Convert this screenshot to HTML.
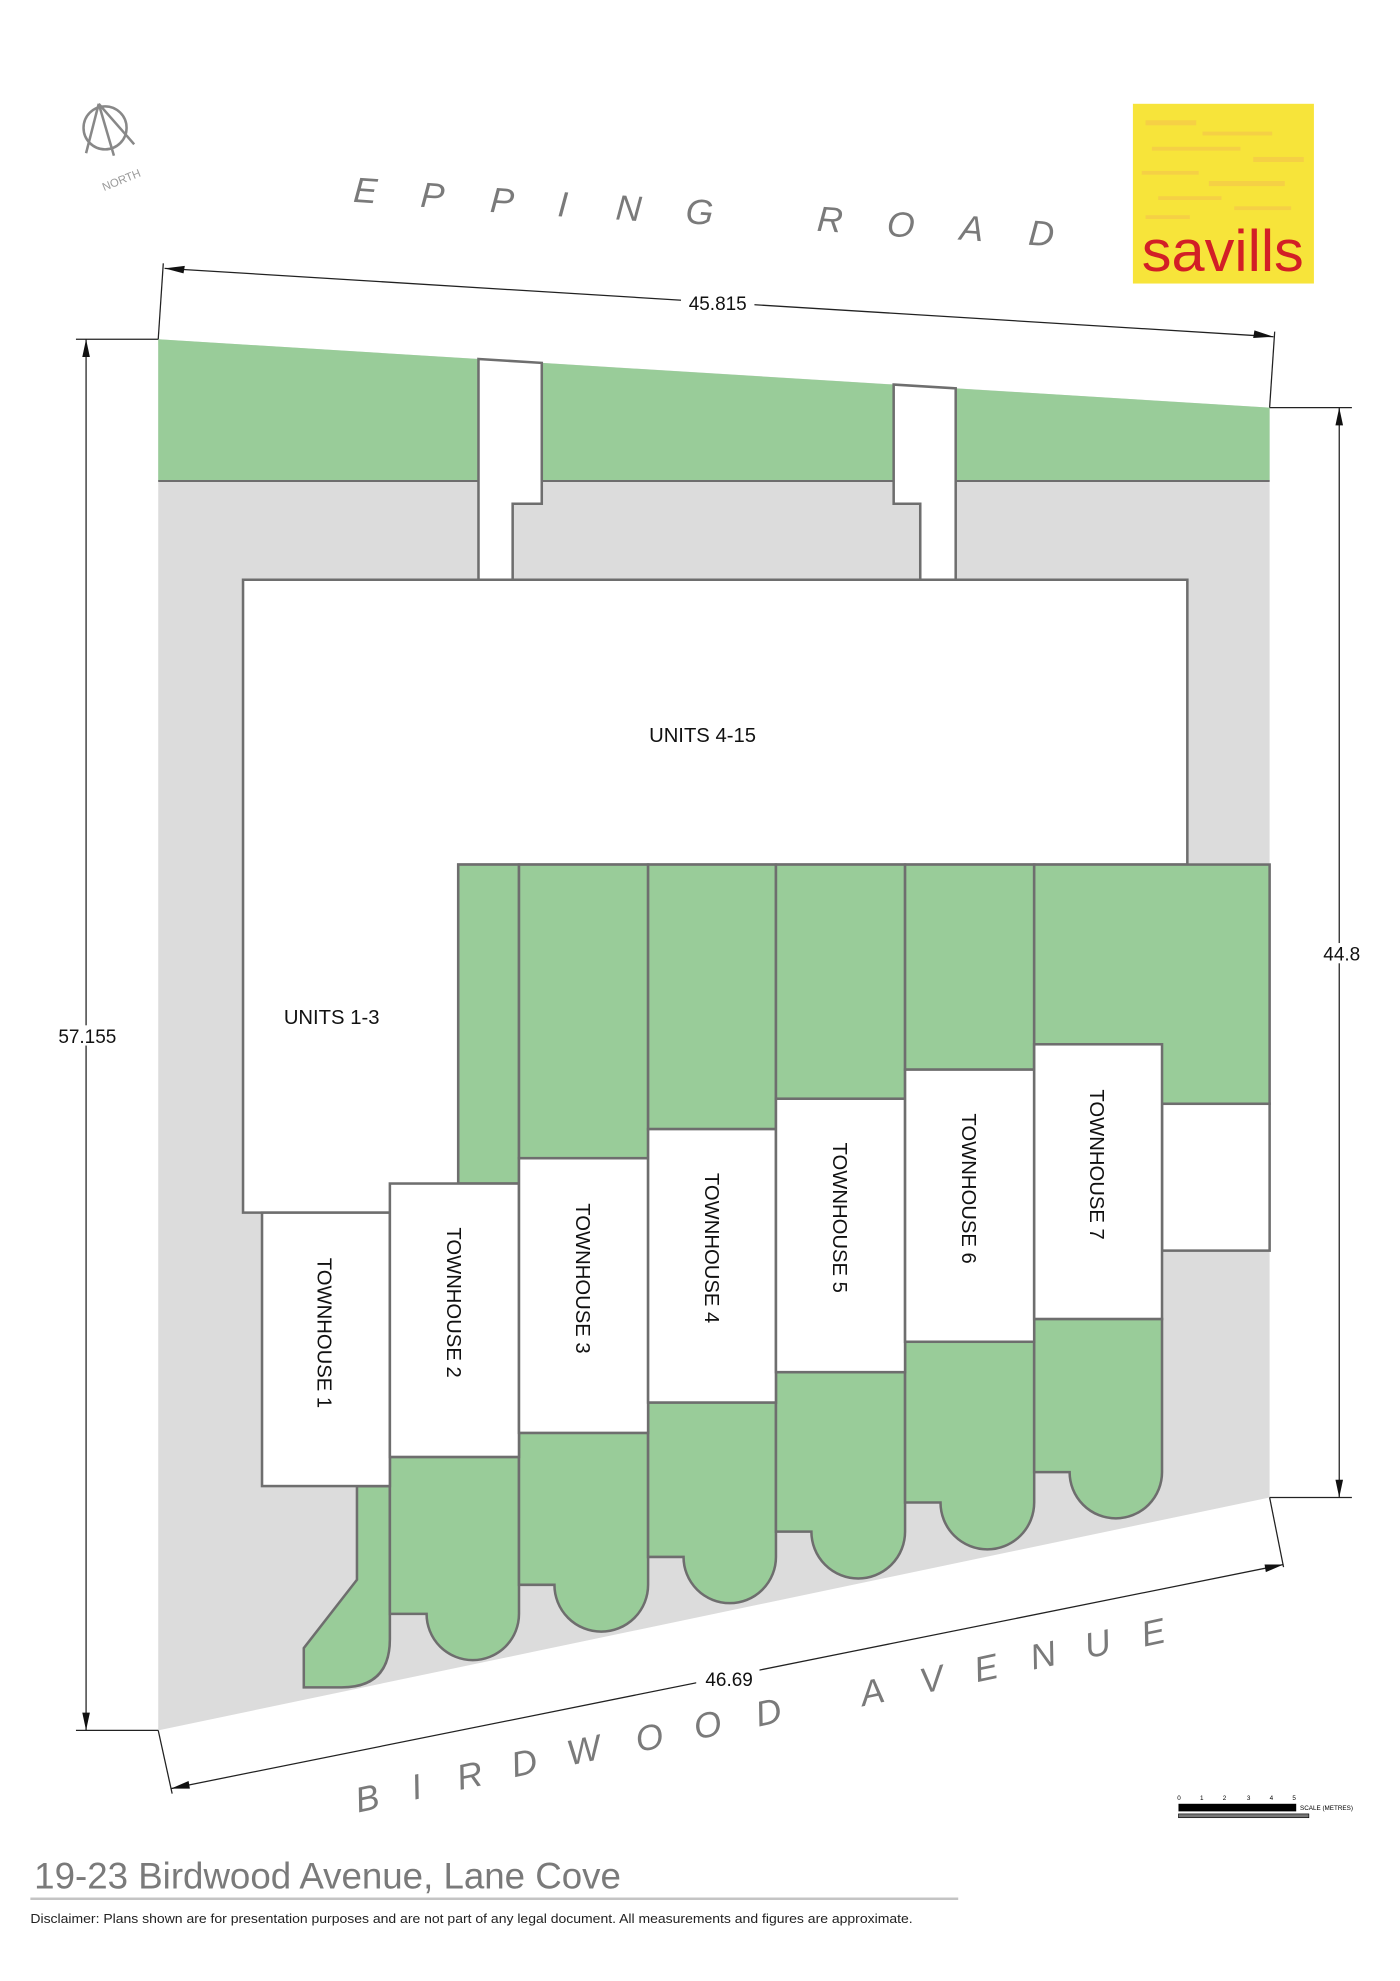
<!DOCTYPE html>
<html><head><meta charset="utf-8"><style>
html,body{margin:0;padding:0;background:#fff;}
svg{display:block;}
text{font-family:"Liberation Sans",sans-serif;}
</style></head><body>
<svg width="1400" height="1981" viewBox="0 0 1106 1565" preserveAspectRatio="none" xmlns="http://www.w3.org/2000/svg">
<rect width="1106" height="1565" fill="#fff"/>
<!-- site -->
<polygon points="125,268 1003,322 1003,1183 125,1367" fill="#dcdcdc"/>
<!-- top green strip -->
<polygon points="125,268 378,283.6 378,380 125,380" fill="#99cc99"/>
<polygon points="428,286.7 706,303.8 706,380 428,380" fill="#99cc99"/>
<polygon points="755,306.8 1003,322 1003,380 755,380" fill="#99cc99"/>
<g fill="none" stroke="#6e6e6e" stroke-width="1.5">
<line x1="125" y1="380" x2="378" y2="380"/>
<line x1="428" y1="380" x2="706" y2="380"/>
<line x1="755" y1="380" x2="1003" y2="380"/>
</g>
<!-- walkways -->
<polygon points="378,283.6 428,286.7 428,398 405,398 405,458 378,458" fill="#fff" stroke="#6e6e6e" stroke-width="2"/>
<polygon points="706,303.8 755,306.8 755,458 727,458 727,398 706,398" fill="#fff" stroke="#6e6e6e" stroke-width="2"/>
<!-- units building -->
<polygon points="192,458 938,458 938,683 362,683 362,958 192,958" fill="#fff" stroke="#6e6e6e" stroke-width="2"/>
<!-- green yards front -->
<g fill="#99cc99" stroke="#6e6e6e" stroke-width="2">
<rect x="362" y="683" width="48" height="252"/>
<rect x="410" y="683" width="102" height="232"/>
<rect x="512" y="683" width="101" height="209"/>
<rect x="613" y="683" width="102" height="185"/>
<rect x="715" y="683" width="102" height="162"/>
<rect x="817" y="683" width="186" height="189"/>
</g>
<rect x="918" y="872" width="85" height="116" fill="#fff" stroke="#6e6e6e" stroke-width="2"/>
<!-- rear gardens -->
<g fill="#99cc99" stroke="#6e6e6e" stroke-width="2">
<path d="M282 1174 L308 1174 L308 1295 Q308 1333 270 1333 L240 1333 L240 1302 L282 1248 Z"/>
<path d="M308 1151 L410 1151 L410 1275 A36.5 36.5 0 0 1 337 1275 L310 1275 L308 1275 Z"/>
<path d="M410 1132 L512 1132 L512 1252 A37 37 0 0 1 438 1252 L410 1252 Z"/>
<path d="M512 1108 L613 1108 L613 1230 A36.5 36.5 0 0 1 540 1230 L512 1230 Z"/>
<path d="M613 1084 L715 1084 L715 1210 A37 37 0 0 1 641 1210 L613 1210 Z"/>
<path d="M715 1060 L817 1060 L817 1187 A37 37 0 0 1 743 1187 L715 1187 Z"/>
<path d="M817 1042 L918 1042 L918 1163 A36.5 36.5 0 0 1 845 1163 L817 1163 Z"/>
</g>
<!-- townhouses -->
<g fill="#fff" stroke="#6e6e6e" stroke-width="2">
<rect x="207" y="958" width="101" height="216"/>
<rect x="308" y="935" width="102" height="216"/>
<rect x="410" y="915" width="102" height="217"/>
<rect x="512" y="892" width="101" height="216"/>
<rect x="613" y="868" width="102" height="216"/>
<rect x="715" y="845" width="102" height="215"/>
<rect x="817" y="825" width="101" height="217"/>
</g>
<g font-size="16" fill="#111">
<text x="555" y="586" text-anchor="middle">UNITS 4-15</text>
<text x="262" y="809" text-anchor="middle">UNITS 1-3</text>
<text transform="translate(251,1053) rotate(90)" text-anchor="middle">TOWNHOUSE 1</text>
<text transform="translate(353,1029) rotate(90)" text-anchor="middle">TOWNHOUSE 2</text>
<text transform="translate(455,1010) rotate(90)" text-anchor="middle">TOWNHOUSE 3</text>
<text transform="translate(557,986) rotate(90)" text-anchor="middle">TOWNHOUSE 4</text>
<text transform="translate(658,962) rotate(90)" text-anchor="middle">TOWNHOUSE 5</text>
<text transform="translate(760,939) rotate(90)" text-anchor="middle">TOWNHOUSE 6</text>
<text transform="translate(861,920) rotate(90)" text-anchor="middle">TOWNHOUSE 7</text>
</g>
<!-- dimensions -->
<g stroke="#222" stroke-width="1" fill="none">
<line x1="125" y1="268" x2="129" y2="208"/>
<line x1="1003" y1="322" x2="1007" y2="262"/>
<line x1="130" y1="212" x2="1006" y2="266"/>
<line x1="60" y1="268" x2="125" y2="268"/>
<line x1="60" y1="1367" x2="125" y2="1367"/>
<line x1="68" y1="268" x2="68" y2="1367"/>
<line x1="1003" y1="322" x2="1068" y2="322"/>
<line x1="1003" y1="1183" x2="1068" y2="1183"/>
<line x1="1058" y1="322" x2="1058" y2="1183"/>
<line x1="125" y1="1367" x2="136" y2="1417"/>
<line x1="1003" y1="1183" x2="1014" y2="1238"/>
<line x1="135" y1="1413" x2="1014" y2="1236"/>
</g>
<g fill="#111">
<polygon points="130,212 146,210 145,216"/>
<polygon points="1006,266 990,267 991,261"/>
<polygon points="68,268 65,282 71,282"/>
<polygon points="68,1367 65,1353 71,1353"/>
<polygon points="1058,322 1055,336 1061,336"/>
<polygon points="1058,1183 1055,1169 1061,1169"/>
<polygon points="135,1413 149,1407 150,1413"/>
<polygon points="1014,1236 1000,1242 999,1236"/>
</g>
<g font-size="15" fill="#111">
<rect x="538" y="231" width="58" height="16" fill="#fff"/>
<text x="567" y="245" text-anchor="middle">45.815</text>
<rect x="40" y="810" width="58" height="16" fill="#fff"/>
<text x="69" y="824" text-anchor="middle">57.155</text>
<rect x="1040" y="745" width="40" height="16" fill="#fff"/>
<text x="1060" y="759" text-anchor="middle">44.8</text>
<rect x="550" y="1318" width="50" height="16" fill="#fff"/>
<text x="576" y="1332" text-anchor="middle">46.69</text>
</g>
<!-- road names -->
<g font-size="28" fill="#7a7a7a" font-style="italic" text-anchor="middle">
<text transform="translate(288,160) rotate(4)">E</text>
<text transform="translate(341,164) rotate(4)">P</text>
<text transform="translate(396,168) rotate(4)">P</text>
<text transform="translate(444,171) rotate(4)">I</text>
<text transform="translate(496,174) rotate(4)">N</text>
<text transform="translate(552,177) rotate(4)">G</text>
<text transform="translate(655,183) rotate(4)">R</text>
<text transform="translate(711,187) rotate(4)">O</text>
<text transform="translate(767,190) rotate(4)">A</text>
<text transform="translate(822,194) rotate(4)">D</text>
</g>
<g font-size="28" fill="#7a7a7a" font-style="italic" text-anchor="middle">
<text transform="translate(292,1430) rotate(-12)">B</text>
<text transform="translate(331,1421) rotate(-12)">I</text>
<text transform="translate(373,1412) rotate(-12)">R</text>
<text transform="translate(416,1402) rotate(-12)">D</text>
<text transform="translate(463,1392) rotate(-12)">W</text>
<text transform="translate(515,1382) rotate(-12)">O</text>
<text transform="translate(561,1372) rotate(-12)">O</text>
<text transform="translate(609,1362) rotate(-12)">D</text>
<text transform="translate(691,1346) rotate(-12)">A</text>
<text transform="translate(738,1336) rotate(-12)">V</text>
<text transform="translate(781,1327) rotate(-12)">E</text>
<text transform="translate(826,1317) rotate(-12)">N</text>
<text transform="translate(869,1308) rotate(-12)">U</text>
<text transform="translate(913,1299) rotate(-12)">E</text>
</g>
<!-- north -->
<g stroke="#888" stroke-width="2" fill="none">
<circle cx="83" cy="101" r="17"/>
<line x1="78" y1="82" x2="68" y2="121"/>
<line x1="78" y1="82" x2="90" y2="123"/>
<line x1="78" y1="82" x2="106" y2="114"/>
</g>
<text transform="translate(97,145) rotate(-22)" font-size="9" fill="#999" text-anchor="middle">NORTH</text>
<!-- logo -->
<rect x="895" y="82" width="143" height="142" fill="#f7e43a"/>
<g fill="#f5c84a" opacity="0.7">
<rect x="905" y="95" width="40" height="4"/><rect x="950" y="104" width="55" height="3"/><rect x="910" y="116" width="70" height="3"/>
<rect x="990" y="124" width="40" height="4"/><rect x="902" y="135" width="45" height="3"/><rect x="955" y="143" width="60" height="4"/>
<rect x="915" y="155" width="50" height="3"/><rect x="975" y="163" width="45" height="3"/><rect x="905" y="170" width="35" height="3"/>
</g>
<text x="966" y="214" font-size="46" fill="#d21f26" text-anchor="middle" textLength="128" lengthAdjust="spacingAndGlyphs">savills</text>
<!-- scale bar -->
<rect x="931" y="1425" width="93" height="6" fill="#000"/>
<rect x="931" y="1433" width="103" height="3" fill="#777" stroke="#000" stroke-width="0.5"/>
<g font-size="5" fill="#000">
<text x="930" y="1422">0</text><text x="948" y="1422">1</text><text x="966" y="1422">2</text><text x="985" y="1422">3</text><text x="1003" y="1422">4</text><text x="1021" y="1422">5</text>
<text x="1027" y="1430">SCALE (METRES)</text>
</g>
<!-- title -->
<text x="27" y="1492" font-size="29" fill="#7a7a7a">19-23 Birdwood Avenue, Lane Cove</text>
<line x1="24" y1="1500" x2="757" y2="1500" stroke="#c4c4c4" stroke-width="2"/>
<text x="24" y="1519" font-size="10.5" fill="#222" textLength="697" lengthAdjust="spacingAndGlyphs">Disclaimer: Plans shown are for presentation purposes and are not part of any legal document. All measurements and figures are approximate.</text>
</svg>
</body></html>
